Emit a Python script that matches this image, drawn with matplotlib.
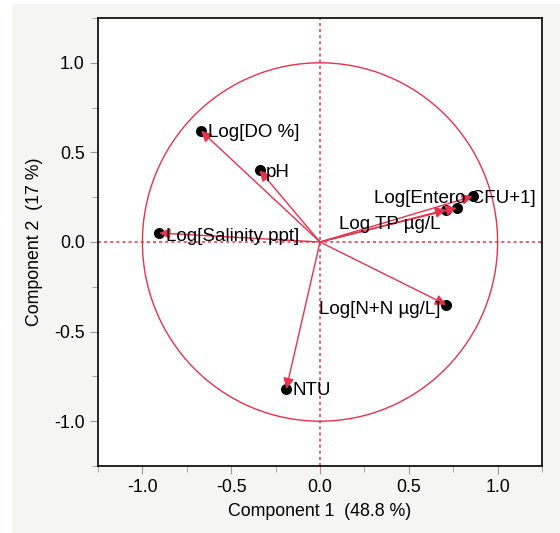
import matplotlib
matplotlib.use("Agg")
import matplotlib.pyplot as plt
from matplotlib.patches import Circle, Rectangle
import numpy as np

plt.rcParams['font.family'] = ['Liberation Sans', 'DejaVu Sans']

names = ["Log[DO %]", "pH", "Log[Salinity ppt]", "NTU", "Log[N+N µg/L]",
         "Log TP µg/L", "", "Log[Entero CFU+1]"]
comp1 = [-0.67, -0.34, -0.905, -0.19, 0.71, 0.71, 0.77, 0.86]
comp2 = [0.62, 0.40, 0.05, -0.82, -0.35, 0.18, 0.19, 0.255]
label_dx = [0.04, 0.035, 0.04, 0.035, -0.03, -0.03, 0.0, -0.1]
label_dy = [-0.01, -0.01, -0.02, -0.01, -0.025, -0.085, 0.0, -0.01]
label_ha = ["left", "left", "left", "left", "right", "right", "left", "center"]

xticks = [-1.0, -0.5, 0.0, 0.5, 1.0]
yticks = [-1.0, -0.5, 0.0, 0.5, 1.0]

red = "#e8314d"

fig = plt.figure(figsize=(5.6, 5.33), dpi=100, facecolor="white")
fig.patches.append(Rectangle((12/560, 0), 1 - 12/560, 1 - 4/533,
                             transform=fig.transFigure, facecolor="#f5f5f2",
                             edgecolor="none", zorder=-10))
ax = fig.add_axes([98/560, 1 - 466/533, (542 - 98)/560, (466 - 18)/533])
ax.set_facecolor("white")
ax.set_xlim(-1.25, 1.25)
ax.set_ylim(-1.25, 1.25)

ax.axhline(0, color=red, lw=1.1, ls=(0, (2, 2)), zorder=1)
ax.axvline(0, color=red, lw=1.1, ls=(0, (2, 2)), zorder=1)
ax.add_patch(Circle((0, 0), 1.0, fill=False, edgecolor=red, lw=1.0, zorder=2))

ax.scatter(comp1, comp2, s=48, color="black", zorder=3)
for x, y in zip(comp1, comp2):
    ax.annotate("", xy=(x, y), xytext=(0, 0),
                arrowprops=dict(arrowstyle="-|>", color=red, lw=1.0,
                                mutation_scale=16, shrinkA=0, shrinkB=0),
                zorder=4)
for n, x, y, dx, dy, ha in zip(names, comp1, comp2, label_dx, label_dy, label_ha):
    if n:
        ax.text(x + dx, y + dy, n, ha=ha, va="center", fontsize=13.5, color="black", zorder=5)

ax.set_xticks(xticks)
ax.set_yticks(yticks)
ax.set_xticks(np.arange(-1.25, 1.26, 0.25), minor=True)
ax.set_yticks(np.arange(-1.25, 1.26, 0.25), minor=True)
ax.tick_params(which="both", direction="out", color="#999999", labelsize=12.8)
ax.tick_params(which="major", length=6)
ax.tick_params(which="minor", length=4)
ax.set_xticklabels([f"{v:.1f}" for v in xticks])
ax.set_yticklabels([f"{v:.1f}" for v in yticks])
for s in ax.spines.values():
    s.set_linewidth(1.2)
    s.set_color("black")

ax.set_xlabel("Component 1  (48.8 %)", fontsize=12.8, labelpad=5)
ax.set_ylabel("Component 2  (17 %)", fontsize=12.8, labelpad=8)

fig.savefig("out.png", dpi=100, facecolor=fig.get_facecolor())
